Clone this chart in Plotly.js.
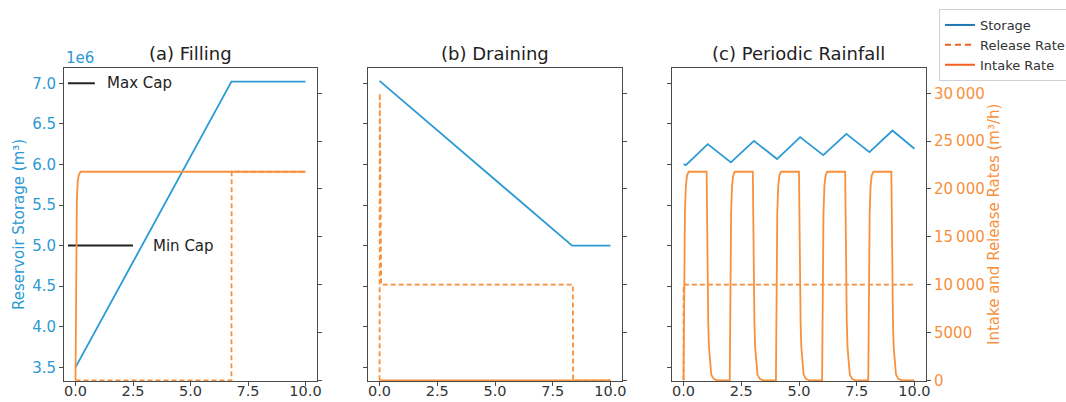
<!DOCTYPE html>
<html>
<head>
<meta charset="utf-8">
<script src="https://cdn.plot.ly/plotly-3.0.1.min.js"></script>
<style>html,body{margin:0;padding:0;background:#fff;}#chart{width:1066px;height:402px;}</style>
</head>
<body>
<div id="chart"></div>
<script>
// ---------- data ----------
const panelTitles = ["(a) Filling", "(b) Draining", "(c) Periodic Rainfall"];
const xTickVals = [0, 2.5, 5, 7.5, 10];
const xTickText = ["0.0", "2.5", "5.0", "7.5", "10.0"];
const storageTickVals = [3.5e6, 4.0e6, 4.5e6, 5.0e6, 5.5e6, 6.0e6, 6.5e6, 7.0e6];
const storageTickText = ["3.5", "4.0", "4.5", "5.0", "5.5", "6.0", "6.5", "7.0"];
const rateTickVals = [0, 5000, 10000, 15000, 20000, 25000, 30000];
const rateTickText = ["0", "5000", "10\u202F000", "15\u202F000", "20\u202F000", "25\u202F000", "30\u202F000"];

// (a) Filling
const tStorageA = [0, 6.78, 10];
const storageA = [3.5e6, 7.02e6, 7.02e6];
const tIntakeA = [0, 0.01, 0.03, 0.06, 0.1, 0.15, 0.22, 10];
const intakeA = [0, 6000, 14000, 19000, 20900, 21500, 21800, 21800];
const tReleaseA = [0, 6.78, 6.79, 10];
const releaseA = [0, 0, 21800, 21800];
const maxCapX = [-0.33, 0.84];
const maxCapY = [7.0e6, 7.0e6];
const minCapX = [-0.33, 2.5];
const minCapY = [5.0e6, 5.0e6];

// (b) Draining
const tStorageB = [0, 8.34, 10];
const storageB = [7.03e6, 5.0e6, 5.0e6];
const tReleaseB = [0, 0.01, 0.07, 8.37, 8.38, 10];
const releaseB = [0, 30000, 10000, 10000, 0, 0];
const tIntakeB = [0, 10];
const intakeB = [0, 0];

// (c) Periodic Rainfall
const tStorageC = [0, 0.1, 1.05, 2.05, 3.05, 4.05, 5.05, 6.05, 7.05, 8.05, 9.05, 10];
const storageC = [6.005e6, 5.99e6, 6.25e6, 6.025e6, 6.29e6, 6.066e6, 6.337e6, 6.115e6, 6.377e6, 6.152e6, 6.418e6, 6.193e6];
const tIntakeC = [
  0, 0.03, 0.06, 0.1, 0.15, 0.22, 1.0, 1.02, 1.04, 1.07, 1.1, 1.15, 1.2, 1.3, 1.45,
  2.0, 2.03, 2.06, 2.1, 2.15, 2.22, 3.0, 3.02, 3.04, 3.07, 3.1, 3.15, 3.2, 3.3, 3.45,
  4.0, 4.03, 4.06, 4.1, 4.15, 4.22, 5.0, 5.02, 5.04, 5.07, 5.1, 5.15, 5.2, 5.3, 5.45,
  6.0, 6.03, 6.06, 6.1, 6.15, 6.22, 7.0, 7.02, 7.04, 7.07, 7.1, 7.15, 7.2, 7.3, 7.45,
  8.0, 8.03, 8.06, 8.1, 8.15, 8.22, 9.0, 9.02, 9.04, 9.07, 9.1, 9.15, 9.2, 9.3, 9.45,
  10.0];
const intakeC = [
  0, 12000, 17500, 20300, 21400, 21800, 21800, 17000, 11000, 6000, 3500, 1500, 600, 150, 0,
  0, 12000, 17500, 20300, 21400, 21800, 21800, 17000, 11000, 6000, 3500, 1500, 600, 150, 0,
  0, 12000, 17500, 20300, 21400, 21800, 21800, 17000, 11000, 6000, 3500, 1500, 600, 150, 0,
  0, 12000, 17500, 20300, 21400, 21800, 21800, 17000, 11000, 6000, 3500, 1500, 600, 150, 0,
  0, 12000, 17500, 20300, 21400, 21800, 21800, 17000, 11000, 6000, 3500, 1500, 600, 150, 0,
  0];
const tReleaseC = [0, 0.001, 10];
const releaseC = [0, 10000, 10000];

const legendNames = ["Storage", "Release Rate", "Intake Rate"];

// ---------- style ----------
const W = 1066, H = 402;
const FONT = "DejaVu Sans";
const BLUE = "#2b9ad4", ORANGE = "#f7913d";
const LEG_BLUE = "#1f77b4", LEG_ORANGE = "#f0601e";
const AXC = "#4a4a4a";
const plotTop = 68, plotBottom = 381;
const yDom = [1 - plotBottom / H, 1 - plotTop / H];
const xDoms = [[64 / W, 317 / W], [368 / W, 622 / W], [672 / W, 926 / W]];
const storageRange = [3.332e6, 7.188e6];
const rateRange = [-70, 32640];

function st(x, y, ya, xa) {
  return {x: x, y: y, xaxis: xa, yaxis: ya, type: "scatter", mode: "lines",
    line: {color: BLUE, width: 1.8}, showlegend: false, hoverinfo: "skip"};
}
function rel(x, y, ya, xa) {
  return {x: x, y: y, xaxis: xa, yaxis: ya, type: "scatter", mode: "lines",
    line: {color: ORANGE, width: 1.8, dash: "5px,3px"}, showlegend: false, hoverinfo: "skip"};
}
function intk(x, y, ya, xa) {
  return {x: x, y: y, xaxis: xa, yaxis: ya, type: "scatter", mode: "lines",
    line: {color: ORANGE, width: 1.8}, showlegend: false, hoverinfo: "skip"};
}
function cap(x, y) {
  return {x: x, y: y, xaxis: "x", yaxis: "y", type: "scatter", mode: "lines",
    line: {color: "#222", width: 2}, showlegend: false, hoverinfo: "skip"};
}

const traces = [
  st(tStorageA, storageA, "y", "x"),
  cap(maxCapX, maxCapY),
  cap(minCapX, minCapY),
  intk(tIntakeA, intakeA, "y2", "x"),
  rel(tReleaseA, releaseA, "y2", "x"),
  st(tStorageB, storageB, "y3", "x2"),
  intk(tIntakeB, intakeB, "y4", "x2"),
  rel(tReleaseB, releaseB, "y4", "x2"),
  st(tStorageC, storageC, "y5", "x3"),
  rel(tReleaseC, releaseC, "y6", "x3"),
  intk(tIntakeC, intakeC, "y6", "x3"),
  // legend entries
  {x: [null], y: [null], xaxis: "x3", yaxis: "y5", type: "scatter", mode: "lines", name: legendNames[0],
    line: {color: LEG_BLUE, width: 2}},
  {x: [null], y: [null], xaxis: "x3", yaxis: "y5", type: "scatter", mode: "lines", name: legendNames[1],
    line: {color: LEG_ORANGE, width: 2, dash: "6px,4px"}},
  {x: [null], y: [null], xaxis: "x3", yaxis: "y5", type: "scatter", mode: "lines", name: legendNames[2],
    line: {color: LEG_ORANGE, width: 2}}
];

function xAx(i, anchor) {
  return {domain: xDoms[i], anchor: anchor, range: [-0.5, 10.5], tickvals: xTickVals, ticktext: xTickText,
    ticks: "outside", ticklen: 4, tickcolor: AXC, showline: true, linecolor: AXC, linewidth: 1, mirror: true,
    ticklabelstandoff: -7,
    showgrid: false, zeroline: false, tickfont: {family: FONT, size: 14.5, color: "#333"}};
}
function yL(anchor, labels) {
  return {domain: yDom, anchor: anchor, range: storageRange, tickvals: storageTickVals, ticktext: storageTickText,
    showticklabels: labels, ticks: "outside", ticklen: 4, tickcolor: AXC, showline: true, linecolor: AXC,
    linewidth: 1, showgrid: false, zeroline: false, tickfont: {family: FONT, size: 15, color: BLUE}};
}
function yR(anchor, over, labels) {
  return {domain: yDom, anchor: anchor, overlaying: over, side: "right", range: rateRange,
    tickvals: rateTickVals, ticktext: rateTickText, showticklabels: labels, ticks: "outside", ticklen: 4,
    tickcolor: AXC, showline: true, linecolor: AXC, linewidth: 1, showgrid: false, zeroline: false,
    tickfont: {family: FONT, size: 15, color: ORANGE}};
}

const annotations = [];
panelTitles.forEach((t, i) => {
  annotations.push({xref: "paper", yref: "paper", x: (xDoms[i][0] + xDoms[i][1]) / 2, y: 1 - 54 / H,
    text: t, showarrow: false, xanchor: "center", yanchor: "middle",
    font: {family: FONT, size: 18, color: "#222"}});
});
annotations.push({xref: "paper", yref: "paper", x: 64 / W, y: 1 - 58 / H, text: "1e6", showarrow: false,
  xanchor: "left", yanchor: "middle", font: {family: FONT, size: 15, color: BLUE}});
annotations.push({xref: "paper", yref: "paper", x: 19 / W, y: 1 - 225 / H, text: "Reservoir Storage (m³)",
  textangle: -90, showarrow: false, xanchor: "center", yanchor: "middle", font: {family: FONT, size: 15, color: BLUE}});
annotations.push({xref: "paper", yref: "paper", x: 994 / W, y: 1 - 225 / H, text: "Intake and Release Rates (m³/h)",
  textangle: -90, showarrow: false, xanchor: "center", yanchor: "middle", font: {family: FONT, size: 15, color: ORANGE}});
annotations.push({xref: "x", yref: "y", x: 1.3, y: maxCapY[0], text: "Max Cap", showarrow: false,
  xanchor: "left", yanchor: "middle", font: {family: FONT, size: 15, color: "#222"}});
annotations.push({xref: "x", yref: "y", x: 3.3, y: minCapY[0], text: "Min Cap", showarrow: false,
  xanchor: "left", yanchor: "middle", font: {family: FONT, size: 15, color: "#222"}});

const layout = {
  width: W, height: H,
  margin: {l: 0, r: 0, t: 0, b: 0, autoexpand: false},
  paper_bgcolor: "#fff", plot_bgcolor: "#fff",
  showlegend: true,
  legend: {x: 939 / W, y: 1 - 9 / H, xanchor: "left", yanchor: "top", bgcolor: "#fff",
    bordercolor: "#d0d0d0", borderwidth: 1, font: {family: FONT, size: 13, color: "#333"},
    itemwidth: 30, tracegroupgap: 0},
  xaxis: xAx(0, "y"), yaxis: yL("x", true), yaxis2: yR("x", "y", false),
  xaxis2: xAx(1, "y3"), yaxis3: yL("x2", false), yaxis4: yR("x2", "y3", false),
  xaxis3: xAx(2, "y5"), yaxis5: yL("x3", false), yaxis6: yR("x3", "y5", true),
  annotations: annotations
};

Plotly.newPlot("chart", traces, layout, {staticPlot: true, displayModeBar: false});
</script>
</body>
</html>
